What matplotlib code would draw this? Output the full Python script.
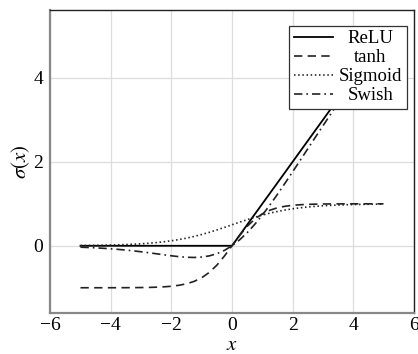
import matplotlib
matplotlib.use("Agg")
import matplotlib.pyplot as plt

plt.rcParams['font.family'] = ['Liberation Serif', 'DejaVu Serif']
plt.rcParams['mathtext.fontset'] = 'stix'

x = [-5.0, -4.75, -4.5, -4.25, -4.0, -3.75, -3.5, -3.25, -3.0, -2.75, -2.5,
     -2.25, -2.0, -1.75, -1.5, -1.25, -1.0, -0.75, -0.5, -0.25, 0.0,
     0.25, 0.5, 0.75, 1.0, 1.25, 1.5, 1.75, 2.0, 2.25, 2.5,
     2.75, 3.0, 3.25, 3.5, 3.75, 4.0, 4.25, 4.5, 4.75, 5.0]

relu_x = [-5.0, 0.0, 5.0]
relu_y = [0.0, 0.0, 5.0]

tanh_y = [-0.9999, -0.9999, -0.9998, -0.9996, -0.9993, -0.9989, -0.9982, -0.9970,
          -0.9951, -0.9919, -0.9866, -0.9780, -0.9640, -0.9414, -0.9051, -0.8483,
          -0.7616, -0.6351, -0.4621, -0.2449, 0.0,
          0.2449, 0.4621, 0.6351, 0.7616, 0.8483, 0.9051, 0.9414, 0.9640, 0.9780,
          0.9866, 0.9919, 0.9951, 0.9970, 0.9982, 0.9989, 0.9993, 0.9996, 0.9998,
          0.9999, 0.9999]

sigmoid_y = [0.0067, 0.0086, 0.0110, 0.0141, 0.0180, 0.0230, 0.0293, 0.0373,
             0.0474, 0.0601, 0.0759, 0.0953, 0.1192, 0.1480, 0.1824, 0.2227,
             0.2689, 0.3208, 0.3775, 0.4378, 0.5,
             0.5622, 0.6225, 0.6792, 0.7311, 0.7773, 0.8176, 0.8520, 0.8808, 0.9047,
             0.9241, 0.9399, 0.9526, 0.9627, 0.9707, 0.9770, 0.9820, 0.9859, 0.9890,
             0.9914, 0.9933]

swish_y = [-0.0335, -0.0408, -0.0495, -0.0599, -0.0719, -0.0862, -0.1025, -0.1212,
           -0.1423, -0.1653, -0.1897, -0.2144, -0.2384, -0.2590, -0.2736, -0.2784,
           -0.2689, -0.2406, -0.1888, -0.1094, 0.0,
           0.1406, 0.3112, 0.5094, 0.7311, 0.9716, 1.2264, 1.4910, 1.7616, 2.0356,
           2.3103, 2.5847, 2.8577, 3.1288, 3.3975, 3.6638, 3.9281, 4.1901, 4.4505,
           4.7092, 4.9665]

fig = plt.figure(figsize=(4.18, 3.54), dpi=100)
ax = fig.add_axes([0.12, 0.116, 0.87, 0.856])

ax.plot(relu_x, relu_y, color='black', lw=1.3, label='ReLU')
ax.plot(x, tanh_y, color='#222222', lw=1.2, dashes=(5, 3.2), label='tanh')
ax.plot(x, sigmoid_y, color='#222222', lw=1.2, dashes=(0.9, 1.6), label='Sigmoid')
ax.plot(x, swish_y, color='#222222', lw=1.2, dashes=(5, 2.4, 1, 2.4), label='Swish')

ax.set_xlim(-6, 6)
ax.set_ylim(-1.6, 5.62)
ax.set_xticks([-6, -4, -2, 0, 2, 4, 6])
ax.set_yticks([0, 2, 4])
ax.grid(True, color='#dddddd', lw=0.9)
ax.set_axisbelow(True)
ax.tick_params(length=0, labelsize=14, pad=5)
ax.tick_params(axis='x', pad=3)

for s in ['left', 'bottom']:
    ax.spines[s].set_color('#888888')
    ax.spines[s].set_linewidth(1.6)
for s in ['top', 'right']:
    ax.spines[s].set_color('#222222')
    ax.spines[s].set_linewidth(1.0)

ax.set_xlabel('$x$', fontsize=15)
ax.xaxis.set_label_coords(0.5, -0.076)
ax.set_ylabel(r'$\sigma(x)$', fontsize=15, labelpad=1)

leg = ax.legend(loc='upper right', bbox_to_anchor=(0.981, 0.948),
                fontsize=13.5, frameon=True, fancybox=False,
                edgecolor='#333333', framealpha=1, handlelength=2.1,
                handletextpad=0.3, labelspacing=0.1, borderpad=0.25,
                borderaxespad=0)
leg.get_frame().set_linewidth(0.9)

# centre the legend labels in their column
fig.canvas.draw()
renderer = fig.canvas.get_renderer()
widths = [t.get_window_extent(renderer).width for t in leg.get_texts()]
widest = max(widths)
for t, w in zip(leg.get_texts(), widths):
    t.set_position(((widest - w) / 2, 0))

fig.savefig('out.png', dpi=100)
